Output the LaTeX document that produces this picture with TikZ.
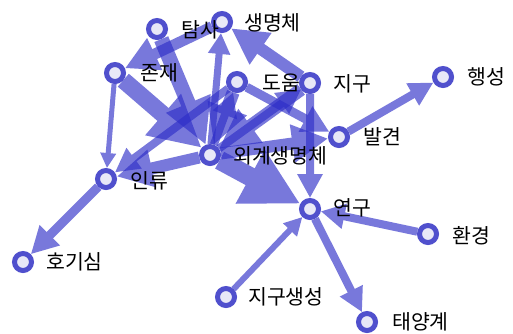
\documentclass[tikz,border=0pt]{standalone}
\usepackage{fontspec}
\setmainfont{Noto Sans CJK KR}
\usetikzlibrary{arrows.meta,backgrounds}
\definecolor{ec}{RGB}{45,45,200}
\definecolor{ring}{RGB}{80,80,205}
\definecolor{nfill}{RGB}{232,232,247}
\tikzset{
  nd/.style={circle,draw=ring,fill=nfill,line width=5pt,minimum size=17pt,inner sep=0pt},
  ed/.style={draw=ec,fill=ec,-{Triangle[length=0pt 3,width=0pt 3]}},
  lab/.style={font=\fontsize{20.5}{20.5}\selectfont,inner sep=0pt,anchor=west},
}
\newcommand\arr[3]{\begin{scope}[transparency group,opacity=.64]\draw[ed,line width=#3pt] (#1) -- (#2);\end{scope}}
\begin{document}
\begin{tikzpicture}[x=1pt,y=-1pt]
\useasboundingbox (0,0) rectangle (513,333);
\node[nd] (tamsa) at (157,29) {};
\node[nd] (saeng) at (222,22) {};
\node[nd] (jonjae) at (115,73) {};
\node[nd] (doum) at (237,82) {};
\node[nd] (jigu) at (310,83) {};
\node[nd] (haeng) at (443,77) {};
\node[nd] (balgyeon) at (339,137) {};
\node[nd] (oegye) at (210,155) {};
\node[nd] (illyu) at (106,179) {};
\node[nd] (hogi) at (23,262) {};
\node[nd] (yeongu) at (310,209) {};
\node[nd] (hwangyeong) at (428,234) {};
\node[nd] (jigusaeng) at (226,297) {};
\node[nd] (taeyang) at (367,322) {};
\begin{scope}[on background layer]
\fill[white] (0,0) rectangle (513,333);
\arr{oegye}{yeongu}{19}
\arr{jonjae}{oegye}{17}
\arr{tamsa}{oegye}{15}
\arr{doum}{oegye}{13}
\arr{jigu}{oegye}{13}
\arr{oegye}{doum}{8}
\arr{oegye}{jigu}{8}
\arr{oegye}{balgyeon}{12}
\arr{doum}{balgyeon}{9}
\arr{oegye}{illyu}{12}
\arr{doum}{illyu}{8}
\arr{jonjae}{illyu}{5}
\arr{oegye}{saeng}{7}
\arr{jigu}{saeng}{12}
\arr{saeng}{jonjae}{11}
\arr{illyu}{hogi}{9}
\arr{balgyeon}{haeng}{8}
\arr{jigu}{yeongu}{8}
\arr{hwangyeong}{yeongu}{8}
\arr{jigusaeng}{yeongu}{6}
\arr{yeongu}{taeyang}{8}
\end{scope}
\node[lab] (ltamsa) at (181,30) {탐사};
\node[lab] (lsaeng) at (244,23) {생명체};
\node[lab] (ljonjae) at (140,73) {존재};
\node[lab] (ldoum) at (262,83) {도움};
\node[lab] (ljigu) at (333,84) {지구};
\node[lab] (lhaeng) at (467,77) {행성};
\node[lab] (lbalgyeon) at (363,137) {발견};
\node[lab] (loegye) at (233,156) {외계생명체};
\node[lab] (lillyu) at (130,181) {인류};
\node[lab] (lhogi) at (46,262) {호기심};
\node[lab] (lyeongu) at (333,208) {연구};
\node[lab] (lhwangyeong) at (452,236) {환경};
\node[lab] (ljigusaeng) at (248,297) {지구생성};
\node[lab] (ltaeyang) at (392,322) {태양계};
\end{tikzpicture}
\end{document}
